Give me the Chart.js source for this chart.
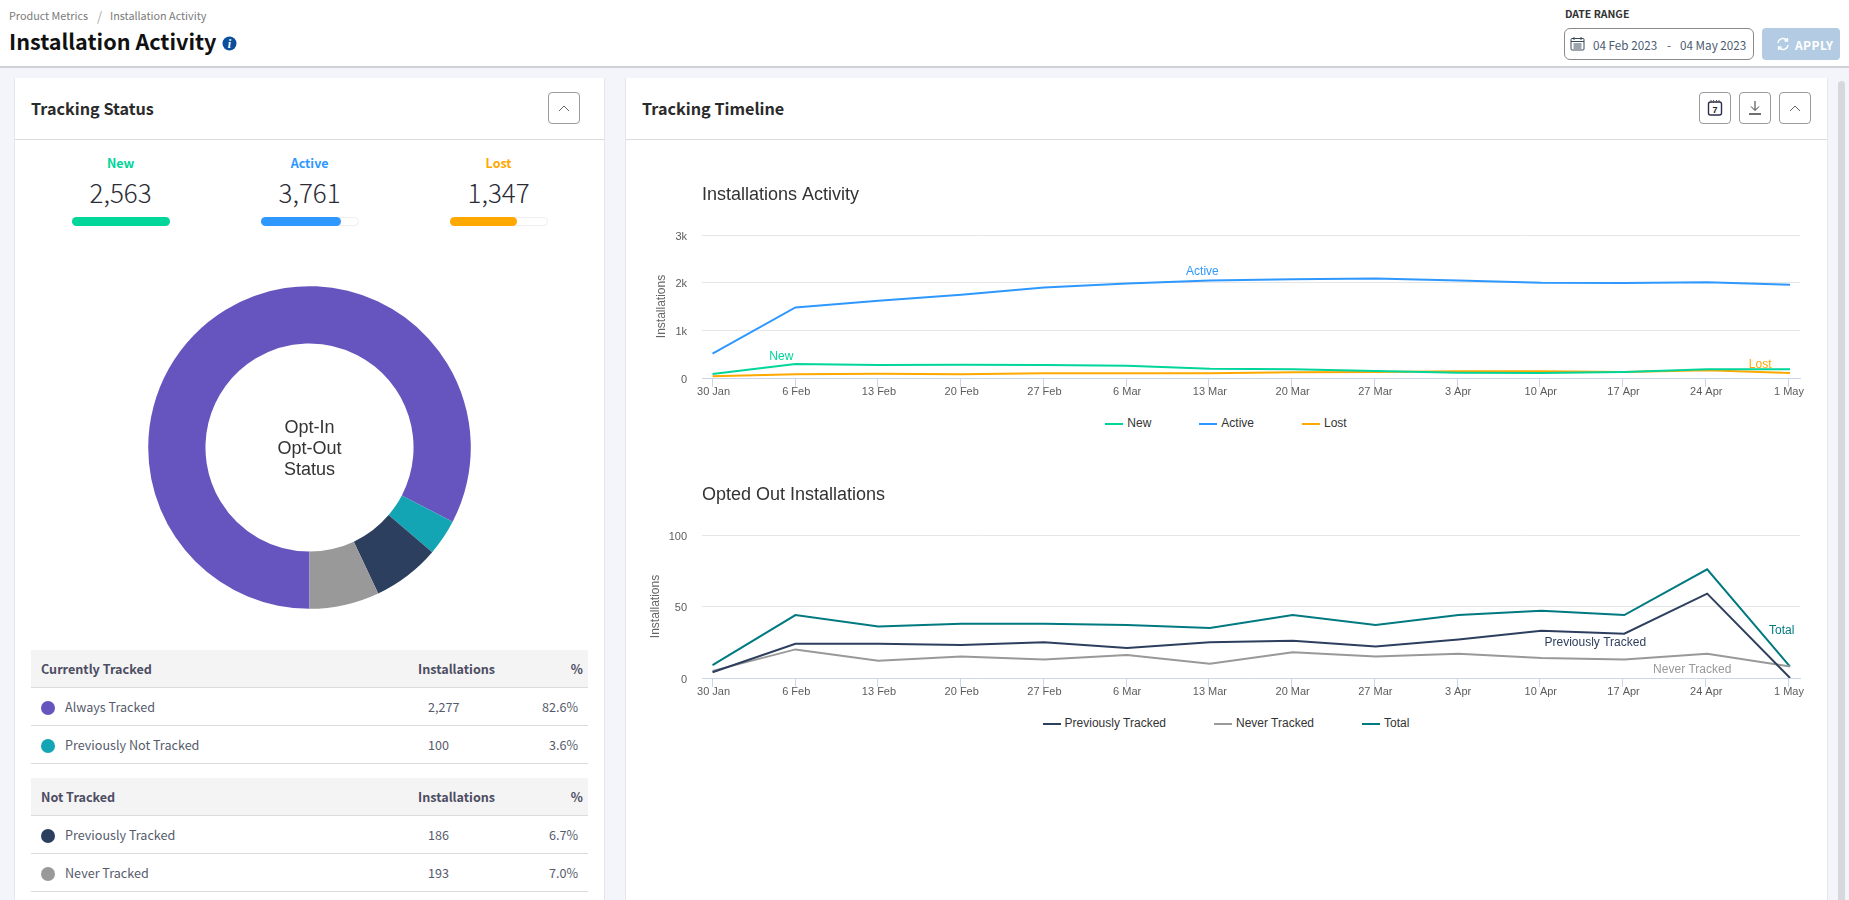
<!DOCTYPE html>
<html><head><meta charset="utf-8">
<script src="https://cdn.jsdelivr.net/npm/chart.js@4/dist/chart.umd.js"></script>
<style>
*{box-sizing:border-box;margin:0;padding:0}
html,body{width:1849px;height:900px;overflow:hidden;background:#f4f5fa;font-family:"Noto Sans CJK SC",sans-serif;position:relative}
.a{position:absolute;white-space:nowrap}
.mid{transform:translateY(-50%)}
.ctr{transform:translate(-50%,-50%)}
#head{left:0;top:0;width:1849px;height:68px;background:#fff;border-bottom:2px solid #d0d1d6}
.card{background:#fff;border:1px solid #e6e7ec;border-top:0;top:78px;height:830px}
.line{left:0;height:1px;background:#dcdcdc;top:61px}
.btn{width:32px;height:32px;top:92px;border:1px solid #9a9a9a;border-radius:4px;background:#fff;display:flex;align-items:center;justify-content:center}
.cardt{font-size:16.2px;font-weight:700;color:#2b2b2b;top:107.500px}
.stl{font-size:12.5px;font-weight:700;top:162px}
.stv{font-size:26px;font-weight:300;color:#2b2b36;top:191px}
.track{top:217px;width:98px;height:9px;border-radius:5px;background:#fff;border:1px solid #eee}
.fill{position:absolute;top:-1px;left:-1px;height:9px;border-radius:5px}
.thead{left:31px;width:557px;height:38px;background:#f4f4f4;border-bottom:1px solid #dcdcdc}
.thtxt{font-size:12.6px;font-weight:700;color:#4d4d63}
.trow{left:31px;width:557px;height:38px;border-bottom:1px solid #dcdcdc}
.trtxt{font-size:12.6px;color:#565b6c}
.dot{width:14px;height:14px;border-radius:50%}
.lg{display:flex;justify-content:center;left:634px;width:1184px;font:12px "Liberation Sans",sans-serif;color:#333;gap:48px}
.lg span.it{display:flex;align-items:center;gap:4px}
.lg i{display:block;width:18px;height:2px;margin-top:1px}
</style></head><body>
<div class="a" id="head"></div>
<div class="a" style="left:9px;top:14.500px;font-size:10.8px;color:#7a7a7a;transform:translateY(-50%)">Product Metrics</div>
<div class="a" style="left:97px;top:14.500px;font-size:13px;color:#aaa;transform:translateY(-50%)">/</div>
<div class="a" style="left:110px;top:14.500px;font-size:10.8px;color:#7a7a7a;transform:translateY(-50%)">Installation Activity</div>
<div class="a mid" style="left:9px;top:40px;font-size:21.6px;font-weight:700;color:#111">Installation Activity</div>
<svg class="a" style="left:222px;top:36px" width="15" height="15" viewBox="0 0 15 15"><circle cx="7.5" cy="7.5" r="7" fill="#0b4f9c"/><text x="7.5" y="12" text-anchor="middle" font-family="Liberation Serif" font-style="italic" font-weight="700" font-size="12" fill="#fff">i</text></svg>
<div class="a mid" style="left:1565px;top:13px;font-size:10.500px;font-weight:700;color:#333">DATE RANGE</div>
<div class="a" style="left:1564px;top:28px;width:190px;height:32px;border:1px solid #8a8a8a;border-radius:6px;background:#fff"></div>
<svg class="a" style="left:1570px;top:36px" width="15" height="15" viewBox="0 0 15 15" fill="none" stroke="#3c4a5e" stroke-width="1"><rect x="1" y="2.5" width="13" height="11.5" rx="1"/><path d="M1 5.5h13M4 1v3M11 1v3M3.5 8h8M3.5 10h8M3.5 12h8"/></svg>
<div class="a mid" style="left:1593px;top:43.500px;font-size:11.700px;color:#4a5a70">04 Feb 2023</div>
<div class="a mid" style="left:1667px;top:43.500px;font-size:11.700px;color:#4a5a70">-</div>
<div class="a mid" style="left:1680px;top:43.500px;font-size:11.700px;color:#4a5a70">04 May 2023</div>
<div class="a" style="left:1762px;top:28px;width:78px;height:32px;border-radius:4px;background:#b3cce3"></div>
<svg class="a" style="left:1776px;top:37px" width="14" height="14" viewBox="0 0 14 14" fill="none" stroke="#fff" stroke-width="1.4"><path d="M2 6a5 5 0 0 1 9-2.5M12 8a5 5 0 0 1-9 2.5M11.5 1v3h-3M2.500 13v-3h3"/></svg>
<div class="a mid" style="left:1795px;top:44px;font-size:12px;font-weight:700;color:#fff;letter-spacing:.4px">APPLY</div>

<div class="a card" style="left:14px;width:591px"><div class="a line" style="width:589px"></div></div>
<div class="a card" style="left:625px;width:1203px"><div class="a line" style="width:1201px"></div></div>
<div class="a" style="left:1838px;top:81px;width:7px;height:830px;border-radius:4px;background:#d6d8de"></div>

<div class="a cardt mid" style="left:31px">Tracking Status</div>
<div class="a cardt mid" style="left:642px">Tracking Timeline</div>
<div class="a btn" style="left:548px"><svg width="12" height="8" viewBox="0 0 12 8" fill="none" stroke="#666"><path d="M1 7l5-5 5 5"/></svg></div>
<div class="a btn" style="left:1699px"><svg width="18" height="18" viewBox="0 0 18 18" fill="none"><rect x="2.500" y="3" width="13" height="13" rx="2" stroke="#2d2d4e" stroke-width="1.4"/><path d="M5 1v3M7.500 1v3M10.500 1v3M13 1v3" stroke="#555"/><text x="9" y="14" text-anchor="middle" font-family="Liberation Sans" font-weight="700" font-size="9" fill="#222">7</text></svg></div>
<div class="a btn" style="left:1739px"><svg width="14" height="16" viewBox="0 0 14 16" fill="none" stroke="#333"><path d="M7 1v9M3 6.500l4 4 4-4"/><path d="M1 14h12" stroke-width="1.4"/></svg></div>
<div class="a btn" style="left:1779px"><svg width="12" height="8" viewBox="0 0 12 8" fill="none" stroke="#666"><path d="M1 7l5-5 5 5"/></svg></div>

<div id="stats"></div>
<canvas class="a" id="donut" width="329" height="329" style="left:145px;top:283px"></canvas>
<div id="tables"></div>

<canvas class="a" id="c1" width="1184" height="232" style="left:634px;top:170px"></canvas>
<div class="a lg mid" id="l1" style="top:423px"></div>
<canvas class="a" id="c2" width="1184" height="232" style="left:634px;top:470px"></canvas>
<div class="a lg mid" id="l2" style="top:723px"></div>

<script>
// ---- data ----
const weekLabels = ['30 Jan','6 Feb','13 Feb','20 Feb','27 Feb','6 Mar','13 Mar','20 Mar','27 Mar','3 Apr','10 Apr','17 Apr','24 Apr','1 May'];
const newValues    = [84,294,272,280,272,259,196,182,147,112,105,125,182,182];
const activeValues = [510,1480,1620,1746,1900,1980,2046,2070,2088,2046,2000,1994,2010,1956];
const lostValues   = [35,77,91,77,98,98,98,119,126,140,140,125,160,105];
const prevTrackedValues  = [4,24,24,23,25,21,25,26,22,27,33,31,59,0];
const neverTrackedValues = [5,20,12,15,13,16,10,18,15,17,14,13,17,8];
const totalValues        = [9,44,36,38,38,37,35,44,37,44,47,44,76,8];
const statNames  = ['New','Active','Lost'];
const statValues = ['2,563','3,761','1,347'];
const statShares = [100,82.5,68.5];
const trackedNames = ['Always Tracked','Previously Not Tracked'];
const trackedInstalls = [2277,100];
const trackedPercents = ['82.6%','3.6%'];
const untrackedNames = ['Previously Tracked','Never Tracked'];
const untrackedInstalls = [186,193];
const untrackedPercents = ['6.7%','7.0%'];
const y1Ticks = {0:'0',1000:'1k',2000:'2k',3000:'3k'};

// ---- styles ----
const C = {new:'#00d59a',active:'#2e98ff',lost:'#ffa800',prev:'#2d3f5e',never:'#999999',total:'#007a80',purple:'#6655be',teal:'#14a5b5'};
const SANS = 'Liberation Sans';

// ---- stats ----
const statCenter=[120.6,309.6,498.6], statCol=[C.new,C.active,C.lost];
document.getElementById('stats').innerHTML = statNames.map((n,i)=>
 `<div class="a stl ctr" style="left:${statCenter[i]}px;color:${statCol[i]}">${n}</div>
  <div class="a stv ctr" style="left:${statCenter[i]}px">${statValues[i]}</div>
  <div class="a track" style="left:${statCenter[i]-49}px"><div class="fill" style="width:${statShares[i]*0.98}px;background:${statCol[i]}"></div></div>`).join('');

// ---- tables ----
function table(title,top,names,inst,pct,cols){
  let h=`<div class="a thead" style="top:${top}px"></div>
  <div class="a thtxt mid" style="left:41px;top:${top+17.5}px">${title}</div>
  <div class="a thtxt mid" style="left:418px;top:${top+17.5}px">Installations</div>
  <div class="a thtxt mid" style="right:${1849-583}px;top:${top+17.5}px">%</div>`;
  names.forEach((n,i)=>{const t=top+38+i*38;
   h+=`<div class="a trow" style="top:${t}px"></div>
   <div class="a dot mid" style="left:41px;top:${t+20}px;background:${cols[i]}"></div>
   <div class="a trtxt mid" style="left:65px;top:${t+17.5}px">${n}</div>
   <div class="a trtxt mid" style="left:428px;top:${t+17.5}px">${inst[i].toLocaleString('en-US')}</div>
   <div class="a trtxt mid" style="right:${1849-578}px;top:${t+17.5}px">${pct[i]}</div>`;});
  return h;
}
document.getElementById('tables').innerHTML =
  table('Currently Tracked',650,trackedNames,trackedInstalls,trackedPercents,[C.purple,C.teal])+
  table('Not Tracked',778,untrackedNames,untrackedInstalls,untrackedPercents,[C.prev,C.never]);

// ---- doughnut ----
const centerText = {id:'centerText',afterDraw(ch){
  const {ctx}=ch, a=ch.getDatasetMeta(0).data[0];
  ctx.save();ctx.font=`18px "${SANS}"`;ctx.fillStyle='#333';ctx.textAlign='center';ctx.textBaseline='middle';
  ['Opt-In','Opt-Out','Status'].forEach((t,i)=>ctx.fillText(t,a.x,a.y+2+(i-1)*21));
  ctx.restore();}};
new Chart(document.getElementById('donut'),{type:'doughnut',
  data:{labels:[...trackedNames,...untrackedNames],datasets:[{
    data:[trackedInstalls[0],trackedInstalls[1],untrackedInstalls[0],untrackedInstalls[1]],
    backgroundColor:[C.purple,C.teal,C.prev,C.never],borderWidth:0}]},
  options:{responsive:false,animation:false,rotation:180,radius:161.3,cutout:'64.5%',
    plugins:{legend:{display:false},tooltip:{enabled:false}}},
  plugins:[centerText]});

// ---- line charts ----
const tickDrift = 0.9981;
const seriesLabels = {id:'seriesLabels',afterDatasetsDraw(ch,args,opts){
  const {ctx,scales:{x,y}}=ch;ctx.save();ctx.font=`12px "${SANS}"`;ctx.textAlign='center';ctx.textBaseline='middle';
  opts.items.forEach(it=>{ctx.fillStyle=it.color;ctx.fillText(it.text,x.getPixelForValue(it.x),y.getPixelForValue(it.y)+1);});
  ctx.restore();}};
function lineChart(id,title,pad,titlePad,yMax,yStep,yFmt,series,items){
  return new Chart(document.getElementById(id),{type:'line',
    data:{datasets:series.map(s=>({label:s.name,data:s.values.map((v,i)=>({x:i,y:v})),borderColor:s.color,backgroundColor:s.color,
       borderWidth:2,pointRadius:0,tension:0,fill:false}))},
    options:{responsive:false,animation:false,parsing:false,normalized:true,
      layout:{padding:{right:18}},
      scales:{
        x:{type:'linear',min:-0.127,max:13.12,
           afterBuildTicks(s){s.ticks=weekLabels.map((_,i)=>({value:i*tickDrift}));},
           afterFit(s){s.height=24;},
           border:{color:'#ccd6eb',width:1},
           grid:{drawOnChartArea:false,color:'#ccd6eb',tickLength:9,tickWidth:1},
           ticks:{autoSkip:false,maxRotation:0,minRotation:0,padding:-2,labelOffset:1,color:'#5c5c5c',font:{family:SANS,size:11},
             callback:(v,i)=>weekLabels[i]}},
        y:{min:0,max:yMax,
           afterFit(s){s.width=68;},
           border:{display:false},
           grid:{color:'#e6e6e6',drawTicks:false},
           ticks:{stepSize:yStep,padding:15,labelOffset:1.5,color:'#5c5c5c',font:{family:SANS,size:11},callback:yFmt},
           title:{display:true,text:'Installations',color:'#666',font:{family:SANS,size:12,lineHeight:1.2},padding:{top:pad,bottom:0}}}
      },
      plugins:{
        tooltip:{enabled:false},legend:{display:false},
        title:{display:true,text:title,align:'start',fullSize:false,color:'#333',font:{family:SANS,size:18,weight:'normal',lineHeight:1.2},padding:titlePad},
        seriesLabels:{items}
      }},
    plugins:[seriesLabels]});
}
const s1=[{name:'New',values:newValues,color:C.new},{name:'Active',values:activeValues,color:C.active},{name:'Lost',values:lostValues,color:C.lost}];
const s2=[{name:'Previously Tracked',values:prevTrackedValues,color:C.prev},{name:'Never Tracked',values:neverTrackedValues,color:C.never},{name:'Total',values:totalValues,color:C.total}];
lineChart('c1','Installations Activity',20.5,{top:14.5,bottom:28.9},3000,1000,v=>y1Ticks[v],s1,[
  {text:'Active',x:5.91,y:2257,color:C.active},{text:'New',x:0.83,y:474,color:C.new},{text:'Lost',x:12.64,y:300,color:C.lost}]);
lineChart('c2','Opted Out Installations',14.8,{top:14.2,bottom:29.2},100,50,v=>String(v),s2,[
  {text:'Previously Tracked',x:10.65,y:25.6,color:C.prev},{text:'Never Tracked',x:11.82,y:6.5,color:C.never},{text:'Total',x:12.9,y:34,color:C.total}]);
function legend(id,series){document.getElementById(id).innerHTML=series.map(s=>`<span class="it"><i style="background:${s.color}"></i>${s.name}</span>`).join('');}
legend('l1',s1);legend('l2',s2);
</script>
</body></html>
